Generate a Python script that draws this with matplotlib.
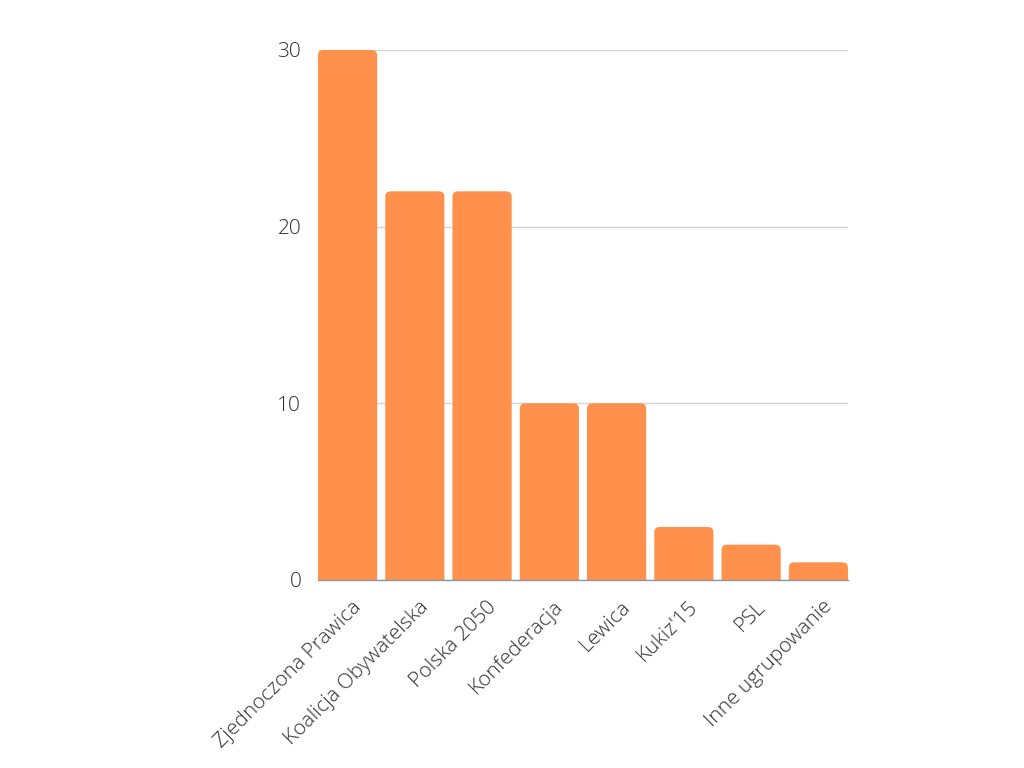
import matplotlib
matplotlib.use("Agg")
import matplotlib.pyplot as plt
import matplotlib.transforms as mtransforms
from matplotlib.patches import FancyBboxPatch

# seats per group
parties = ['Zjednoczona Prawica', 'Koalicja Obywatelska', 'Polska 2050', 'Konfederacja',
           'Lewica', "Kukiz'15", 'PSL', 'Inne ugrupowanie']
seats = [30, 22, 22, 10, 10, 3, 2, 1]
yticks = [0, 10, 20, 30]

bar_color = '#FF914D'
plt.rcParams['font.family'] = ['Open Sans', 'DejaVu Sans']

fig = plt.figure(figsize=(10.24, 7.68), dpi=100)
ax = fig.add_axes([0.3105, 0.2448, 0.8281 - 0.3105, 0.9349 - 0.2448])

width = 0.88
ax.set_xlim(-width / 2, len(parties) - 1 + width / 2)
ax.set_ylim(0, 30)

x_px = (ax.get_position().width * 1024) / (len(parties) - 1 + width)   # px per x unit
y_px = (ax.get_position().height * 768) / 30                            # px per y unit
rad = 5.5 / x_px

for i, v in enumerate(seats):
    # start below zero so only the top corners show rounded (clipped by axes)
    p = FancyBboxPatch((i - width / 2, -1), width, v + 1,
                       boxstyle=f"round,pad=0,rounding_size={rad}",
                       mutation_aspect=x_px / y_px,
                       facecolor=bar_color, edgecolor='none', zorder=3)
    ax.add_patch(p)

ax.set_yticks(yticks)
ax.set_yticklabels([str(t) for t in yticks], fontsize=15, color='#2e2e2e', fontweight='light')
ax.yaxis.grid(True, color='#d4d4d4', linewidth=1, zorder=0)
ax.set_axisbelow(True)

ax.set_xticks(range(len(parties)))
ax.set_xticklabels(parties, rotation=45, ha='right', rotation_mode='anchor',
                   fontsize=15, color='#2e2e2e', fontweight='light')
ax.tick_params(axis='both', length=0)
ax.tick_params(axis='y', pad=12)
ax.tick_params(axis='x', pad=10)

# nudge the slanted labels a little right and down
shift = mtransforms.ScaledTranslation(4 / 100, -3 / 100, fig.dpi_scale_trans)
for lab in ax.get_xticklabels():
    lab.set_transform(lab.get_transform() + shift)

for s in ['top', 'right', 'left']:
    ax.spines[s].set_visible(False)
ax.spines['bottom'].set_color('#8a96a3')
ax.spines['bottom'].set_linewidth(1)
ax.spines['bottom'].set_zorder(4)

fig.savefig('out.png', dpi=100, facecolor='white')
